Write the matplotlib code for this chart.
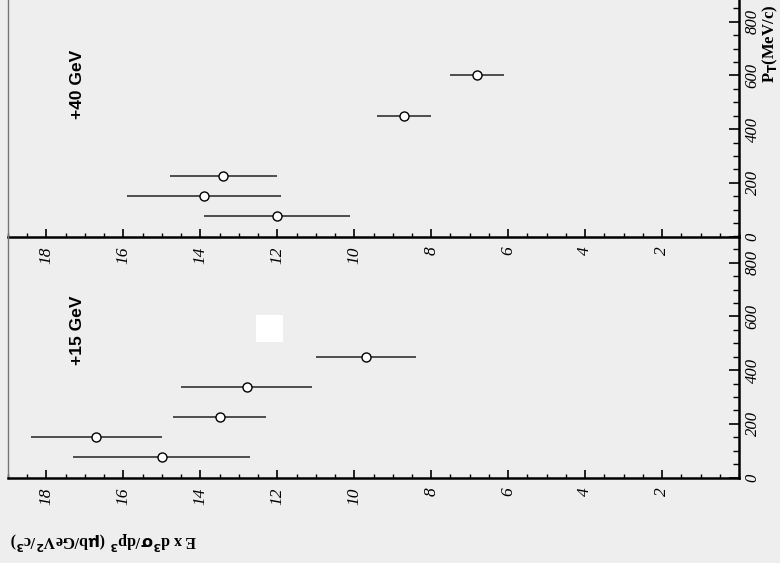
import matplotlib
matplotlib.use("Agg")
import matplotlib.pyplot as plt
from matplotlib.patches import Rectangle
from matplotlib.ticker import MultipleLocator

# +40 GeV panel (top)
top_pt = [75, 150, 225, 450, 600]
top_val = [12.0, 13.9, 13.4, 8.7, 6.8]
top_err = [1.9, 2.0, 1.4, 0.7, 0.7]

# +15 GeV panel (bottom)
bot_pt = [75, 150, 225, 337, 450]
bot_val = [15.0, 16.7, 13.5, 12.8, 9.7]
bot_err = [2.3, 1.7, 1.2, 1.7, 1.3]

xsec_ticks = [2, 4, 6, 8, 10, 12, 14, 16, 18]
pt_ticks = [0, 200, 400, 600, 800]

W, H = 780, 563
bg = "#eeeeee"

fig = plt.figure(figsize=(W / 100, H / 100), dpi=100)
fig.set_facecolor(bg)


def box(x0, y_top, x1, y_bot):
    # pixel box (from top-left) -> figure fraction
    return [x0 / W, 1 - y_bot / H, (x1 - x0) / W, (y_bot - y_top) / H]


ax_top = fig.add_axes(box(8, 236.5 - 241.7, 739, 236.5))
ax_bot = fig.add_axes(box(8, 477.5 - 241.7, 739, 477.5))

x_font = dict(family="Liberation Serif", style="italic", size=12.5)
y_font = dict(family="Liberation Serif", style="italic", size=12)

for ax, pts, vals, errs, label in [
    (ax_top, top_pt, top_val, top_err, "+40 GeV"),
    (ax_bot, bot_pt, bot_val, bot_err, "+15 GeV"),
]:
    ax.patch.set_alpha(0)
    ax.errorbar(vals, pts, xerr=errs, fmt="o", color="black", ecolor="#222222",
                elinewidth=1.1, capsize=0, markersize=6.5,
                markerfacecolor="white", markeredgecolor="black",
                markeredgewidth=1.0)
    ax.set_xlim(19, 0)
    ax.set_ylim(0, 900)

    ax.spines["top"].set_visible(False)
    ax.spines["left"].set_color("#777777")
    ax.spines["left"].set_linewidth(1.0)
    ax.spines["bottom"].set_linewidth(1.8)
    ax.spines["right"].set_linewidth(1.8)

    ax.set_xticks(xsec_ticks)
    ax.set_xticklabels([str(t) for t in xsec_ticks], **x_font)
    ax.xaxis.set_minor_locator(MultipleLocator(0.5))
    ax.tick_params(axis="x", which="both", direction="in", top=False,
                   labelrotation=90, pad=7)
    ax.tick_params(axis="x", which="major", length=6, width=1.2)
    ax.tick_params(axis="x", which="minor", length=3, width=1.0)

    ax.yaxis.tick_right()
    ax.set_yticks(pt_ticks)
    ax.set_yticklabels([str(t) for t in pt_ticks], **y_font)
    ax.yaxis.set_minor_locator(MultipleLocator(50))
    ax.tick_params(axis="y", which="both", direction="in", left=False,
                   right=True, labelrotation=90, pad=4)
    ax.tick_params(axis="y", which="major", length=7, width=1.2)
    ax.tick_params(axis="y", which="minor", length=4, width=1.0)
    for t in ax.get_yticklabels():
        t.set_verticalalignment("center")

    ax.text(0.095, 0.63 if ax is ax_top else 0.61, label, transform=ax.transAxes,
            rotation=90, ha="center", va="center", fontsize=12.5,
            fontweight="bold", family="Liberation Sans")

# axis titles, as in the rotated scan
fig.text(770 / W, 1 - 83 / H, r"P$_\mathbf{T}$(MeV/c)", rotation=90,
         ha="center", va="bottom", fontsize=12, fontweight="bold",
         family="Liberation Serif")
fig.text(103 / W, 1 - 540 / H,
         r"E x d$^\mathbf{3}\mathbf{\sigma}$/dp$^\mathbf{3}$ ($\mathbf{\mu}$b/GeV$^\mathbf{2}$/c$^\mathbf{3}$)",
         rotation=180, ha="center", va="center", fontsize=11.5,
         fontweight="bold", family="Liberation Serif")

# white patch on the scan
fig.patches.append(Rectangle((256 / W, 1 - 342 / H), 27 / W, 27 / H,
                             transform=fig.transFigure, facecolor="white",
                             edgecolor="none"))

fig.savefig("out.png", dpi=100, facecolor=bg)
